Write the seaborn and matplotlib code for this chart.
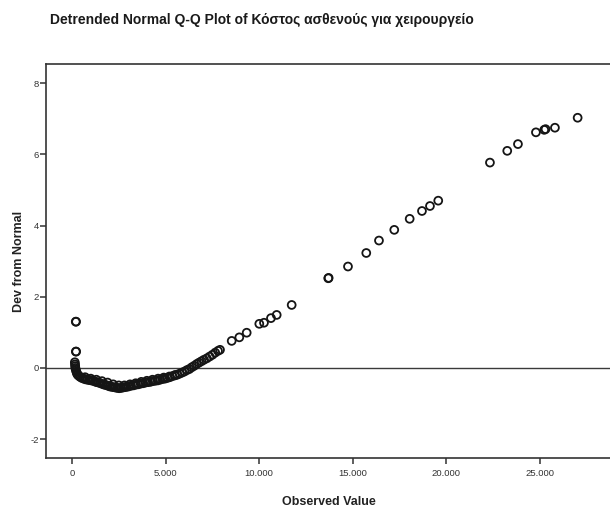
import matplotlib
matplotlib.use("Agg")
import matplotlib.pyplot as plt
from matplotlib.ticker import FuncFormatter
import seaborn as sns
import pandas as pd

# Observed values (cost) and their deviation from the normal quantile
observed = [
    200, 215, 205, 220,
    150, 160, 170, 180, 200, 230, 260, 300, 360, 430, 520, 620, 720, 820, 920,
    1020, 1120, 1220, 1320, 1420, 1520, 1620, 1720, 1820, 1920, 2020, 2120,
    2220, 2320, 2420, 2520, 2620, 2720, 2820, 2920, 3020, 3150, 3280, 3410,
    3540, 3670, 3800, 3930, 4060, 4190, 4320, 4450, 4580, 4710, 4840, 4970,
    5100, 5230, 5360, 5490, 5620, 5750, 5880, 6010, 6140, 6270, 6400, 6530,
    6660, 6790, 6920, 7050, 7200, 7350, 7500, 7650, 7800, 7906,
    700, 1000, 1300, 1600, 1900, 2200, 2500, 2800, 3100, 3400, 3700, 4000,
    4300, 4600, 4900, 5200, 5500,
    8531, 8939, 9332, 10006, 10256, 10630, 10935, 11736,
    13691, 13710, 14744, 15721, 16400, 17217, 18040, 18697, 19124, 19567,
    22329, 23253, 23825, 24786, 25230, 25300, 25801, 27014,
]
deviation = [
    1.30, 1.30, 0.46, 0.46,
    0.16, 0.10, 0.05, 0.00, -0.05, -0.10, -0.15, -0.19, -0.22, -0.25, -0.28,
    -0.30, -0.32, -0.33, -0.34,
    -0.35, -0.36, -0.38, -0.40, -0.41, -0.43, -0.45, -0.47, -0.48, -0.50,
    -0.52, -0.53, -0.54, -0.55, -0.56, -0.57, -0.56, -0.55, -0.54, -0.53,
    -0.52, -0.50, -0.49, -0.47, -0.46, -0.44, -0.43, -0.41, -0.40, -0.39,
    -0.37, -0.36, -0.35, -0.33, -0.31, -0.30, -0.28, -0.26, -0.23, -0.21,
    -0.19, -0.16, -0.13, -0.10, -0.06, -0.03, 0.02, 0.06, 0.11, 0.15, 0.19,
    0.23, 0.27, 0.32, 0.37, 0.43, 0.48, 0.51,
    -0.26, -0.30, -0.33, -0.37, -0.41, -0.46, -0.49, -0.49, -0.46, -0.43,
    -0.39, -0.36, -0.33, -0.30, -0.27, -0.24, -0.20,
    0.76, 0.86, 0.99, 1.24, 1.27, 1.40, 1.49, 1.77,
    2.52, 2.53, 2.85, 3.23, 3.58, 3.88, 4.19, 4.41, 4.55, 4.70,
    5.77, 6.10, 6.29, 6.62, 6.69, 6.71, 6.75, 7.03,
]

x_ticks = [0, 5000, 10000, 15000, 20000, 25000]
y_ticks = [-2, 0, 2, 4, 6, 8]

title = "Detrended Normal Q-Q Plot of Κόστος ασθενούς για χειρουργείο"
x_label = "Observed Value"
y_label = "Dev from Normal"

df = pd.DataFrame({"observed": observed, "deviation": deviation})

sns.set_style("white")
plt.rcParams["font.family"] = ["Liberation Sans", "DejaVu Sans"]

fig = plt.figure(figsize=(6.10, 5.07), dpi=100)
ax = fig.add_axes([46 / 610, 49 / 507, 566 / 610, 394 / 507])

ax.axhline(0, color="#3a3a3a", lw=1.0, zorder=1)
sns.scatterplot(data=df, x="observed", y="deviation", ax=ax,
                marker="o", s=32, facecolor="none", edgecolor="#151515",
                linewidth=1.3, zorder=3)

ax.set_xlim(-1390, 28850)
ax.set_ylim(-2.53, 8.54)
ax.set_xticks(x_ticks)
ax.set_yticks(y_ticks)
ax.xaxis.set_major_formatter(FuncFormatter(lambda v, p: f"{int(v):,}".replace(",", ".")))
ax.yaxis.set_major_formatter(FuncFormatter(lambda v, p: f"{int(v)}"))

for side in ["left", "bottom", "top"]:
    ax.spines[side].set_color("#333333")
    ax.spines[side].set_linewidth(1.2)
ax.spines["right"].set_visible(False)

ax.tick_params(axis="both", direction="out", length=4, width=1.1,
               color="#333333", labelcolor="#333333", labelsize=6.8,
               bottom=True, left=True)
ax.tick_params(axis="x", pad=4)
ax.tick_params(axis="y", pad=1)

ax.set_xlabel(x_label, fontsize=9, fontweight="bold", color="#222222", labelpad=13)
ax.set_ylabel(y_label, fontsize=9, fontweight="bold", color="#222222", labelpad=4)

fig.text(262 / 610, 1 - 20 / 507, title, ha="center", va="center",
         fontsize=10, fontweight="bold", color="#1a1a1a")

fig.savefig("out.png", dpi=100, facecolor="white")
